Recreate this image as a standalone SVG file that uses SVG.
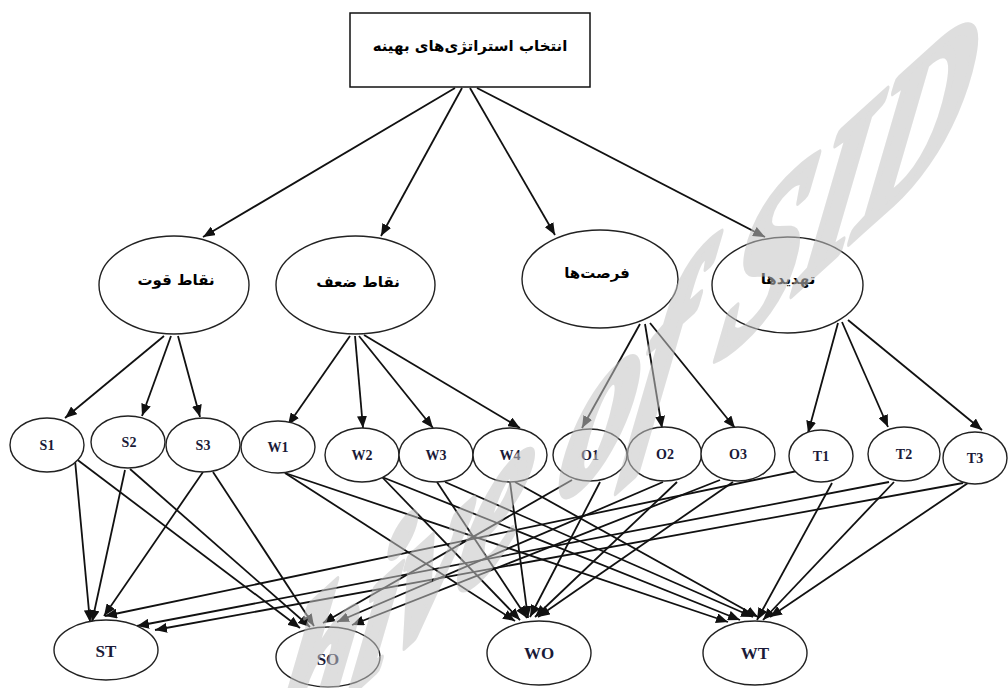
<svg xmlns="http://www.w3.org/2000/svg" width="1008" height="688" viewBox="0 0 1008 688">
<style>
.box{fill:#fff;stroke:#111;stroke-width:1.5}
.node{fill:#fff;stroke:#222;stroke-width:1.4}
.fa{font-family:"DejaVu Sans","Noto Sans",sans-serif;font-weight:bold;fill:#000;text-anchor:middle;direction:rtl}
.lat{font-family:"Liberation Serif","Times New Roman",serif;font-weight:bold;fill:#1a1a38;text-anchor:middle}
.edges line{stroke:#111;stroke-width:1.8;marker-end:url(#ah)}
.wm{font-family:"Liberation Serif",serif;font-weight:bold;font-style:italic;fill:#c4c4c4;stroke:#c4c4c4;stroke-width:5;stroke-linejoin:round}
</style>
<defs>
<marker id="ah" markerUnits="userSpaceOnUse" markerWidth="13" markerHeight="10" refX="12" refY="5" orient="auto">
<path d="M0,0 L12,5 L0,10 z" fill="#111"/>
</marker>
</defs>
<rect width="1008" height="688" fill="#fff"/>
<g class="edges">
<line x1="455" y1="88" x2="203" y2="237"/>
<line x1="462" y1="88" x2="381" y2="236"/>
<line x1="470" y1="88" x2="555" y2="235"/>
<line x1="477" y1="88" x2="765" y2="237"/>
<line x1="164" y1="336" x2="65" y2="418"/>
<line x1="171" y1="336" x2="142" y2="416"/>
<line x1="178" y1="336" x2="200" y2="417"/>
<line x1="350" y1="336" x2="288" y2="425"/>
<line x1="355" y1="336" x2="363" y2="428"/>
<line x1="359" y1="336" x2="433" y2="428"/>
<line x1="364" y1="335" x2="520" y2="428"/>
<line x1="640" y1="324" x2="582" y2="428"/>
<line x1="645" y1="324" x2="662" y2="428"/>
<line x1="650" y1="323" x2="735" y2="428"/>
<line x1="838" y1="323" x2="808" y2="433"/>
<line x1="842" y1="322" x2="888" y2="427"/>
<line x1="848" y1="320" x2="982" y2="430"/>
<line x1="75" y1="460" x2="90" y2="622"/>
<line x1="75" y1="458" x2="300" y2="628"/>
<line x1="125" y1="470" x2="92" y2="622"/>
<line x1="130" y1="469" x2="310" y2="627"/>
<line x1="203" y1="472" x2="104" y2="616"/>
<line x1="213" y1="472" x2="314" y2="626"/>
<line x1="285" y1="473" x2="515" y2="621"/>
<line x1="285" y1="473" x2="728" y2="622"/>
<line x1="382" y1="477" x2="520" y2="620"/>
<line x1="382" y1="477" x2="740" y2="620"/>
<line x1="437" y1="482" x2="527" y2="618"/>
<line x1="445" y1="482" x2="753" y2="617"/>
<line x1="510" y1="482" x2="528" y2="618"/>
<line x1="515" y1="482" x2="758" y2="617"/>
<line x1="572" y1="480" x2="323" y2="623"/>
<line x1="600" y1="482" x2="530" y2="617"/>
<line x1="663" y1="482" x2="337" y2="622"/>
<line x1="677" y1="482" x2="535" y2="617"/>
<line x1="720" y1="480" x2="352" y2="625"/>
<line x1="733" y1="482" x2="538" y2="617"/>
<line x1="802" y1="470" x2="105" y2="616"/>
<line x1="832" y1="483" x2="757" y2="620"/>
<line x1="889" y1="482" x2="137" y2="626"/>
<line x1="894" y1="482" x2="763" y2="620"/>
<line x1="963" y1="483" x2="155" y2="630"/>
<line x1="968" y1="483" x2="770" y2="617"/>
</g>
<g id="goal"><rect class="box" x="350" y="13" width="240" height="74"/><text class="fa" x="470" y="51" font-size="15">انتخاب استراتژی&#x200C;های بهینه</text></g>
<g id="strengths"><ellipse class="node" cx="174" cy="285" rx="75" ry="49"/><text class="fa" x="176" y="285" font-size="15">نقاط قوت</text></g>
<g id="weaknesses"><ellipse class="node" cx="355.5" cy="285" rx="79.5" ry="49"/><text class="fa" x="358" y="287" font-size="15">نقاط ضعف</text></g>
<g id="opportunities"><ellipse class="node" cx="600" cy="279" rx="78" ry="49"/><text class="fa" x="597" y="278" font-size="15">فرصت&#x200C;ها</text></g>
<g id="threats"><ellipse class="node" cx="787.5" cy="285" rx="75.5" ry="48"/><text class="fa" x="788" y="284" font-size="15">تهدیدها</text></g>
<g id="S1"><ellipse class="node" cx="47" cy="445" rx="37" ry="27"/><text class="lat" x="47" y="450" font-size="14">S1</text></g>
<g id="S2"><ellipse class="node" cx="128" cy="442" rx="37" ry="26"/><text class="lat" x="129" y="447" font-size="14">S2</text></g>
<g id="S3"><ellipse class="node" cx="203" cy="445" rx="37" ry="27"/><text class="lat" x="203" y="450" font-size="14">S3</text></g>
<g id="W1"><ellipse class="node" cx="278" cy="447" rx="37" ry="26"/><text class="lat" x="278" y="452" font-size="14">W1</text></g>
<g id="W2"><ellipse class="node" cx="362" cy="455" rx="37" ry="27"/><text class="lat" x="362" y="460" font-size="14">W2</text></g>
<g id="W3"><ellipse class="node" cx="436" cy="455" rx="37" ry="27"/><text class="lat" x="436" y="460" font-size="14">W3</text></g>
<g id="W4"><ellipse class="node" cx="510" cy="455" rx="37" ry="27"/><text class="lat" x="510" y="460" font-size="14">W4</text></g>
<g id="O1"><ellipse class="node" cx="590" cy="455" rx="37" ry="26"/><text class="lat" x="590" y="460" font-size="14">O1</text></g>
<g id="O2"><ellipse class="node" cx="664.5" cy="454" rx="37" ry="27"/><text class="lat" x="665" y="459" font-size="14">O2</text></g>
<g id="O3"><ellipse class="node" cx="738" cy="454" rx="37" ry="27"/><text class="lat" x="738" y="459" font-size="14">O3</text></g>
<g id="T1"><ellipse class="node" cx="821" cy="456" rx="32" ry="26"/><text class="lat" x="821" y="461" font-size="14">T1</text></g>
<g id="T2"><ellipse class="node" cx="904" cy="454" rx="36" ry="27"/><text class="lat" x="904" y="459" font-size="14">T2</text></g>
<g id="T3"><ellipse class="node" cx="975" cy="458" rx="32" ry="26"/><text class="lat" x="975" y="463" font-size="14">T3</text></g>
<g id="ST"><ellipse class="node" cx="106" cy="650" rx="52" ry="30"/><text class="lat" x="106" y="657" font-size="17">ST</text></g>
<g id="SO"><ellipse class="node" cx="328" cy="657" rx="52" ry="30"/><text class="lat" x="328" y="665" font-size="17">SO</text></g>
<g id="WO"><ellipse class="node" cx="539" cy="653" rx="52" ry="32"/><text class="lat" x="539" y="659" font-size="17">WO</text></g>
<g id="WT"><ellipse class="node" cx="755" cy="653" rx="52" ry="32"/><text class="lat" x="755" y="659" font-size="17">WT</text></g>
<g opacity="0.55"><text class="wm" font-size="100" transform="matrix(1.47 -1.33 -0.45 2.2 264 771.6)">hive of SID</text></g>
</svg>
